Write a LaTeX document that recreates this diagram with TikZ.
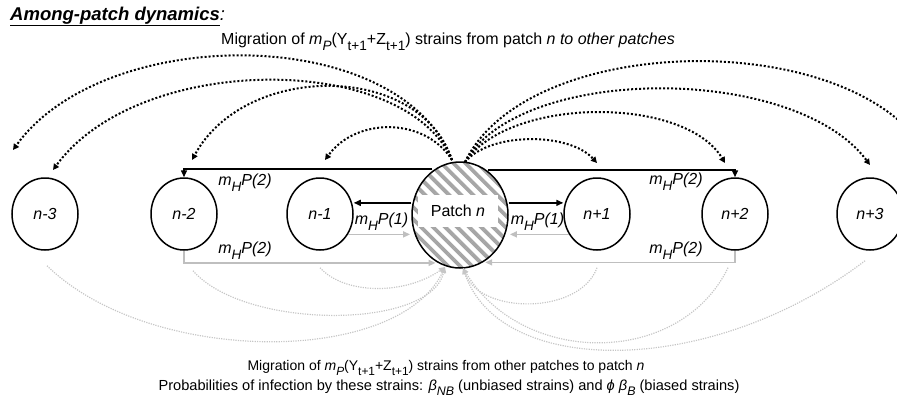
\documentclass[tikz,border=0pt]{standalone}
\usepackage{fontspec}
\setmainfont{Liberation Sans}
\usetikzlibrary{shapes.geometric,arrows.meta,patterns.meta,calc}
\newcommand\lo[1]{\raisebox{-0.38em}{\scalebox{0.85}{#1}}}
\newcommand\mP{\textit{m}\lo{\textit{P}}(Y\lo{t+1}+Z\lo{t+1})}
\newcommand\mH[1]{\textit{m}\lo{\textit{H}}\textit{P(#1)}}
\begin{document}
\begin{tikzpicture}[x=1pt,y=-1pt,
  every node/.style={font=\fontsize{16}{18}\selectfont},
  patch/.style={ellipse,draw,line width=1.5pt,minimum width=66pt,minimum height=72pt,inner sep=0pt},
  blk/.style={draw=black,line width=1.5pt,-{Triangle[length=7pt,width=6pt]}},
  gry/.style={draw=gray!50,line width=1.5pt,-{Triangle[length=7pt,width=6pt]}},
  dotb/.style={draw=black,line width=2pt,dash pattern=on 2pt off 2pt,-{Triangle[length=6pt,width=6pt]}},
  dotg/.style={draw=gray!45,line width=1.2pt,dash pattern=on 1.2pt off 1.2pt,-{Triangle[length=6pt,width=5pt]}},
  lab/.style={inner sep=0pt,anchor=base}
]
\clip (0,0) rectangle (897,407);
% patches
\node[patch] (nm3) at (45,214) {\textit{n-3}};
\node[patch] (nm2) at (184,214) {\textit{n-2}};
\node[patch] (nm1) at (320,214) {\textit{n-1}};
\node[patch] (np1) at (597,214) {\textit{n+1}};
\node[patch] (np2) at (735,214) {\textit{n+2}};
\node[patch] (np3) at (870,214) {\textit{n+3}};
\node[patch,minimum width=96pt,minimum height=106pt,
  pattern={Lines[angle=-45,distance=8.5pt,line width=3.8pt]},pattern color=gray!70] (pn) at (460,215) {};
\node[fill=white,minimum width=80pt,minimum height=32pt,inner sep=0pt] (pl) at (458,211) {Patch \textit{n}};
% solid connectors
\draw[blk] (pn.121.5) -| (nm2.north);
\draw[blk] (pn.58.5) -| (np2.north);
\draw[blk] (pn.166) -- (pn.166 -| nm1.east);
\draw[blk] (pn.14) -- (pn.14 -| np1.west);
\draw[gry] (nm1.-36) -- (nm1.-36 -| pn.west);
\draw[gry] (np1.216) -- (np1.216 -| pn.east);
\draw[gry] (nm2.south) |- (pn.-117.4);
\draw[gry] (np2.south) |- (pn.-62.6);
% labels
\node[lab] (l1) at (245,185) {\mH{2}};
\node[lab] (l2) at (676,184) {\mH{2}};
\node[lab] (l3) at (381.5,224) {\mH{1}};
\node[lab] (l4) at (537.5,224) {\mH{1}};
\node[lab] (l5) at (245,253) {\mH{2}};
\node[lab] (l6) at (676,253) {\mH{2}};
% dotted black arcs out of patch n
\coordinate (sl) at (452,160);
\coordinate (sr) at (465,162);
\coordinate (el1) at (13,150);
\coordinate (el2) at (53,170);
\coordinate (el3) at (192,160);
\coordinate (el4) at (325,160);
\coordinate (er1) at (597,163);
\coordinate (er2) at (725,163);
\coordinate (er3) at (870,165);
\coordinate (er4) at (935,170);
\draw[dotb] (sl) .. controls (400,23) and (104,23) .. (el1);
\draw[dotb] (sl) .. controls (405,52) and (139,52) .. (el2);
\draw[dotb] (sl) .. controls (420,62) and (245,62) .. (el3);
\draw[dotb] (sl) .. controls (425,117) and (356,117) .. (el4);
\draw[dotb] (sr) .. controls (490,132) and (569,132) .. (er1);
\draw[dotb] (sr) .. controls (510,96) and (685,96) .. (er2);
\draw[dotb] (sr) .. controls (520,64) and (795,64) .. (er3);
\draw[dotb] (sr) .. controls (530,27) and (872,27) .. (er4);
% dotted gray arcs into patch n
\coordinate (gl) at (445,267);
\coordinate (gr) at (463,268);
\draw[dotg] ($(nm3.south)+(2,15)$) .. controls (150,366) and (398,366) .. (gl);
\draw[dotg] ($(nm2.south)+(9,20)$) .. controls (245,330) and (430,330) .. (gl);
\draw[dotg] ($(nm1.south)+(0,17)$) .. controls (345,295) and (405,295) .. (gl);
\draw[dotg] ($(np1.south)+(0,17)$) .. controls (580,315) and (480,315) .. (gr);
\draw[dotg] ($(np2.south)+(-7,17)$) .. controls (680,367) and (523,367) .. (gr);
\draw[dotg] ($(np3.south)+(-5,10)$) .. controls (711,378) and (500,378) .. (gr);
% texts
\node[anchor=base west,inner sep=0pt,font=\fontsize{18.5}{20}\selectfont] (title) at (10,20)
  {\textbf{\textit{\underline{Among-patch dynamics}}}\textit{:}};
\node[anchor=base,inner sep=0pt] (top) at (448,44)
  {Migration of \mP{} strains from patch \textit{n to other patches}};
\node[anchor=base,inner sep=0pt,font=\fontsize{14}{16}\selectfont] (bot1) at (446,370)
  {Migration of \mP{} strains from other patches to patch \textit{n}};
\node[anchor=base,inner sep=0pt,font=\fontsize{14.6}{16}\selectfont] (bot2) at (449,390)
  {Probabilities of infection by these strains: \textit{β}\lo{\textit{NB}} (unbiased strains) and \textit{ϕ β}\lo{\textit{B}} (biased strains)};
\end{tikzpicture}
\end{document}
